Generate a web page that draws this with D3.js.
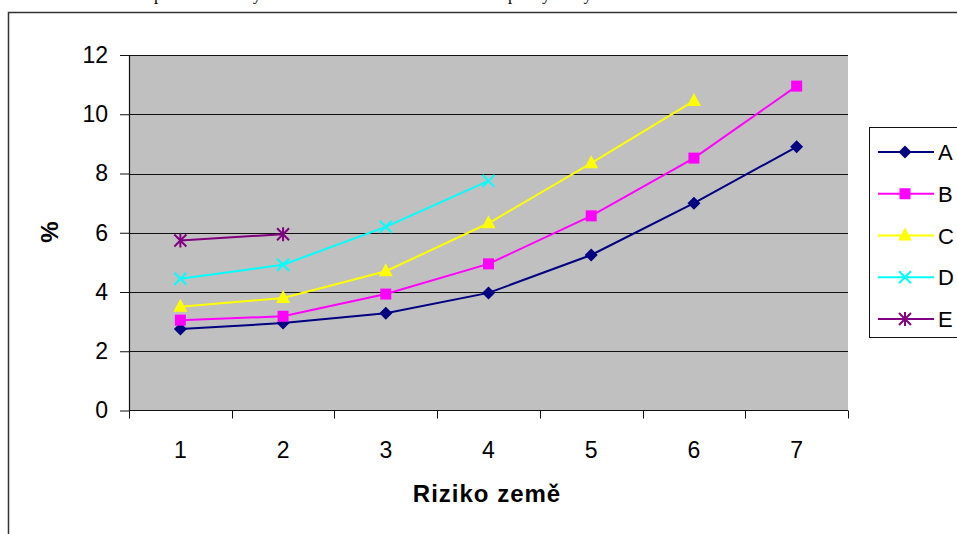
<!DOCTYPE html>
<html>
<head>
<meta charset="utf-8">
<script src="https://cdn.jsdelivr.net/npm/d3@7"></script>
<style>
  html, body { margin: 0; padding: 0; background: #fff; }
  svg { display: block; }
</style>
</head>
<body>
<svg id="chart" width="957" height="534"></svg>
<script>
// Country risk class on the x axis
const categories = [1, 2, 3, 4, 5, 6, 7];
const yTicks = [0, 2, 4, 6, 8, 10, 12];

// Rate (%) per series; series stop where no value exists
const seriesA = [2.75, 2.95, 3.28, 3.97, 5.25, 7.0, 8.9];
const seriesB = [3.05, 3.18, 3.93, 4.95, 6.57, 8.52, 10.95];
const seriesC = [3.5, 3.8, 4.7, 6.32, 8.35, 10.45];
const seriesD = [4.45, 4.92, 6.2, 7.75];
const seriesE = [5.74, 5.95];

const seriesNames = ["A", "B", "C", "D", "E"];
const seriesValues = [seriesA, seriesB, seriesC, seriesD, seriesE];
const seriesColors = ["#000080", "#FF00FF", "#FFFF00", "#00FFFF", "#800080"];
const seriesMarkers = ["diamond", "square", "triangle", "cross", "star"];

const svg = d3.select("#chart");
const font = "'Liberation Sans', Arial, sans-serif";

// Caption line above the chart frame (only its lower edge is on the page)
const cap = svg.append("text")
  .attr("y", -0.5)
  .attr("font-family", "'Liberation Serif', 'Times New Roman', serif")
  .attr("font-size", 17)
  .attr("fill", "#000");
cap.append("tspan").attr("x", 154).text("procentní sazby dle rizika země a");
cap.append("tspan").attr("x", 508).text("platby ve výši");

// Chart frame
svg.append("path")
  .attr("d", "M8.5,540 V12.5 H970")
  .attr("fill", "none")
  .attr("stroke", "#333")
  .attr("stroke-width", 1.5);

const plot = { left: 129, right: 848, top: 55, bottom: 410.5 };

const x = d3.scaleBand().domain(categories).range([plot.left, plot.right]);
const y = d3.scaleLinear().domain([0, 12]).range([plot.bottom, plot.top]);
const cx = d => x(d) + x.bandwidth() / 2;

// Plot area background
svg.append("rect")
  .attr("x", plot.left).attr("y", plot.top)
  .attr("width", plot.right - plot.left).attr("height", plot.bottom - plot.top)
  .attr("fill", "#C0C0C0");

// Horizontal gridlines
svg.append("g").selectAll("line").data(yTicks.filter(t => t > 0)).join("line")
  .attr("x1", plot.left).attr("x2", plot.right)
  .attr("y1", d => Math.round(y(d)) + 0.5).attr("y2", d => Math.round(y(d)) + 0.5)
  .attr("stroke", "#111").attr("stroke-width", 1);

// Y axis
const yAxis = svg.append("g")
  .attr("transform", `translate(${plot.left},0)`)
  .call(d3.axisLeft(y).tickValues(yTicks).tickSize(9).tickPadding(12).tickSizeOuter(0));
yAxis.select(".domain").attr("stroke", "#111").attr("stroke-width", 1.2);
yAxis.selectAll(".tick line").attr("stroke", "#111");
yAxis.selectAll("text").attr("font-family", font).attr("font-size", 23).attr("fill", "#000");

// X axis: ticks on category boundaries, labels at category centres
const bounds = categories.map(c => x(c)).concat([plot.right]);
const xAxisG = svg.append("g");
xAxisG.append("line")
  .attr("x1", plot.left).attr("x2", plot.right)
  .attr("y1", plot.bottom).attr("y2", plot.bottom)
  .attr("stroke", "#111").attr("stroke-width", 1.2);
xAxisG.selectAll("line.tk").data(bounds).join("line").attr("class", "tk")
  .attr("x1", d => Math.round(d) + 0.5).attr("x2", d => Math.round(d) + 0.5)
  .attr("y1", plot.bottom).attr("y2", plot.bottom + 8)
  .attr("stroke", "#111");
xAxisG.selectAll("text").data(categories).join("text")
  .attr("x", d => cx(d)).attr("y", 457.5)
  .attr("text-anchor", "middle")
  .attr("font-family", font).attr("font-size", 23).attr("fill", "#000")
  .text(d => d);

// Axis titles
svg.append("text")
  .attr("x", 487).attr("y", 502)
  .attr("text-anchor", "middle")
  .attr("font-family", font).attr("font-size", 24).attr("font-weight", "bold")
  .attr("letter-spacing", 1)
  .text("Riziko země");
svg.append("text")
  .attr("transform", "translate(58,232) rotate(-90)")
  .attr("text-anchor", "middle")
  .attr("font-family", font).attr("font-size", 24).attr("font-weight", "bold")
  .text("%");

// Marker drawing
function drawMarker(g, type, color, px, py) {
  if (type === "diamond") {
    g.append("path").attr("d", `M${px},${py - 6.5} L${px + 6.5},${py} L${px},${py + 6.5} L${px - 6.5},${py} Z`)
      .attr("fill", color);
  } else if (type === "square") {
    g.append("rect").attr("x", px - 5.5).attr("y", py - 5.5).attr("width", 11).attr("height", 11)
      .attr("fill", color);
  } else if (type === "triangle") {
    g.append("path").attr("d", `M${px},${py - 8} L${px + 7},${py + 5} L${px - 7},${py + 5} Z`)
      .attr("fill", color);
  } else if (type === "cross") {
    g.append("path").attr("d", `M${px - 6},${py - 6} L${px + 6},${py + 6} M${px + 6},${py - 6} L${px - 6},${py + 6}`)
      .attr("stroke", color).attr("stroke-width", 2).attr("fill", "none");
  } else if (type === "star") {
    g.append("path").attr("d",
      `M${px - 6},${py - 6} L${px + 6},${py + 6} M${px + 6},${py - 6} L${px - 6},${py + 6} M${px},${py - 7} L${px},${py + 7}`)
      .attr("stroke", color).attr("stroke-width", 2).attr("fill", "none");
  }
}

// Series lines and markers
const line = d3.line().x((d, i) => cx(categories[i])).y(d => y(d));
seriesValues.forEach((vals, si) => {
  const g = svg.append("g");
  g.append("path").datum(vals).attr("d", line)
    .attr("fill", "none").attr("stroke", seriesColors[si]).attr("stroke-width", 2);
  vals.forEach((v, i) => drawMarker(g, seriesMarkers[si], seriesColors[si], cx(categories[i]), y(v)));
});

// Legend
const legend = svg.append("g");
legend.append("rect")
  .attr("x", 869.5).attr("y", 127.5).attr("width", 120).attr("height", 210)
  .attr("fill", "#fff").attr("stroke", "#111").attr("stroke-width", 1);
const legendY = d3.scalePoint().domain(seriesNames).range([152, 319]);
seriesNames.forEach((name, si) => {
  const ly = legendY(name);
  const lg = legend.append("g");
  lg.append("line").attr("x1", 878).attr("x2", 934).attr("y1", ly).attr("y2", ly)
    .attr("stroke", seriesColors[si]).attr("stroke-width", 2);
  drawMarker(lg, seriesMarkers[si], seriesColors[si], 905, ly);
  lg.append("text").attr("x", 938).attr("y", ly + 8)
    .attr("font-family", font).attr("font-size", 22).attr("fill", "#000").text(name);
});
</script>
</body>
</html>
